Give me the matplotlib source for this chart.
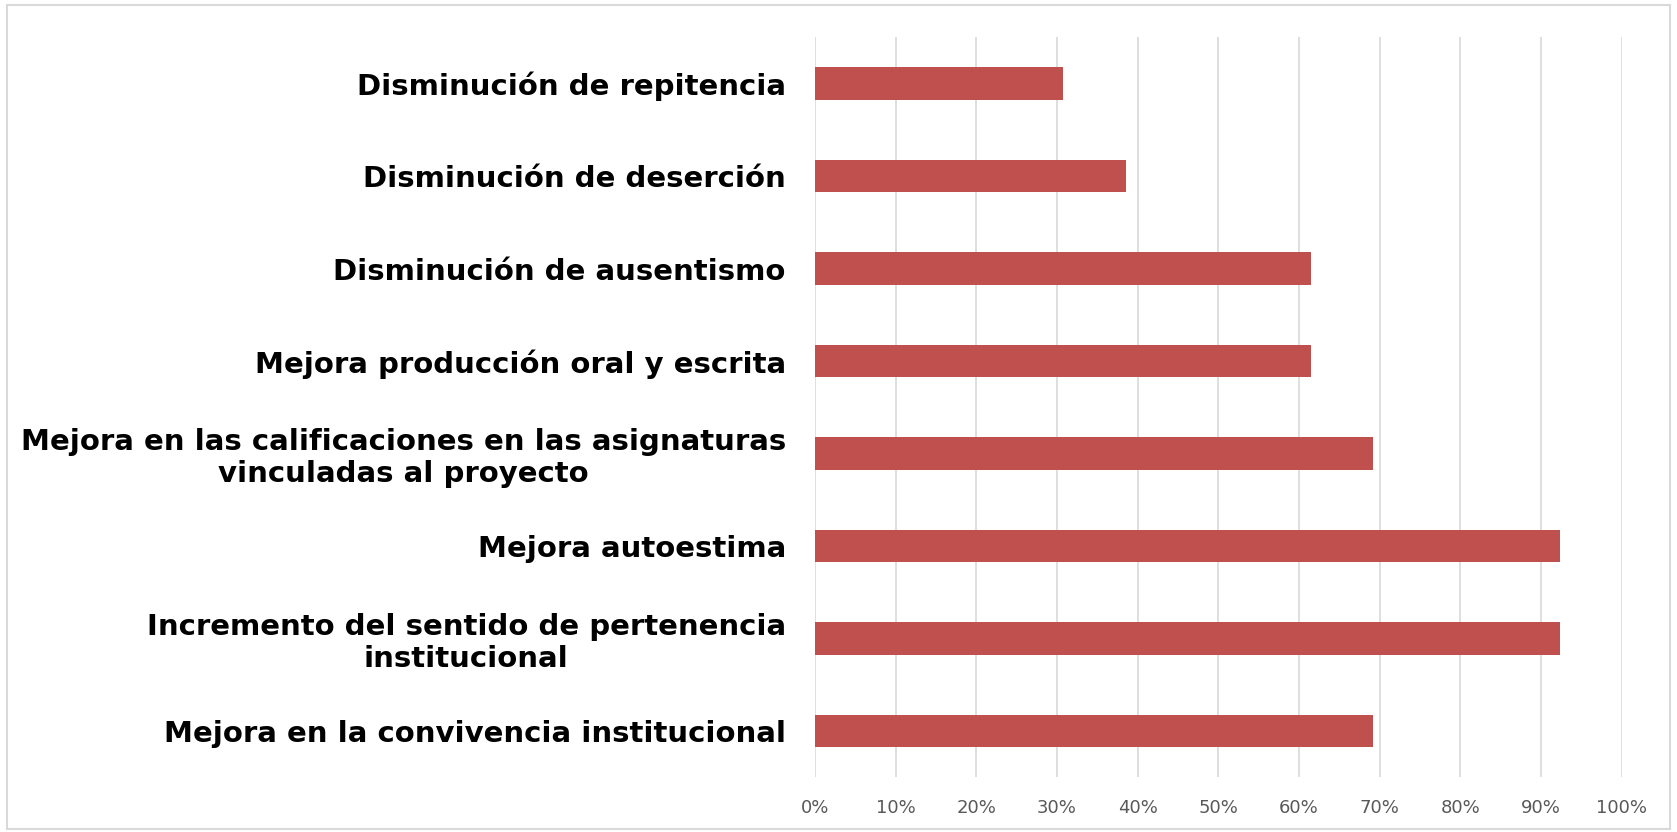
import matplotlib.pyplot as plt
from matplotlib.patches import Rectangle

categorias = [
    "Disminución de repitencia",
    "Disminución de deserción",
    "Disminución de ausentismo",
    "Mejora producción oral y escrita",
    "Mejora en las calificaciones en las asignaturas\nvinculadas al proyecto",
    "Mejora autoestima",
    "Incremento del sentido de pertenencia\ninstitucional",
    "Mejora en la convivencia institucional",
]
porcentajes = [30.8, 38.5, 61.5, 61.5, 69.2, 92.3, 92.3, 69.2]
ticks = list(range(0, 101, 10))

fig = plt.figure(figsize=(16.77, 8.32), dpi=100)
ax = fig.add_axes([0.486, 0.066, 0.481, 0.889])

y = list(range(len(categorias)))
ax.barh(y, porcentajes, height=0.35, color="#C0504D", zorder=3)
ax.set_ylim(len(categorias) - 0.5, -0.5)
ax.set_xlim(0, 100)
ax.set_xticks(ticks)
ax.set_xticklabels([f"{t}%" for t in ticks], color="#595959", fontsize=13)
ax.set_yticks(y)
ax.set_yticklabels(categorias, fontsize=21, fontweight="bold", linespacing=1.15)
for lbl in ax.get_yticklabels():
    lbl.set_multialignment("center")
ax.tick_params(axis="y", length=0, pad=21)
ax.tick_params(axis="x", length=0, pad=16)
ax.grid(axis="x", color="#D9D9D9", linewidth=1.2, zorder=0)
for s in ax.spines.values():
    s.set_visible(False)

fig.patches.append(Rectangle((0.004, 0.004), 0.992, 0.99, transform=fig.transFigure,
                             fill=False, edgecolor="#D9D9D9", linewidth=1.5))

fig.savefig("out.png", dpi=100)
